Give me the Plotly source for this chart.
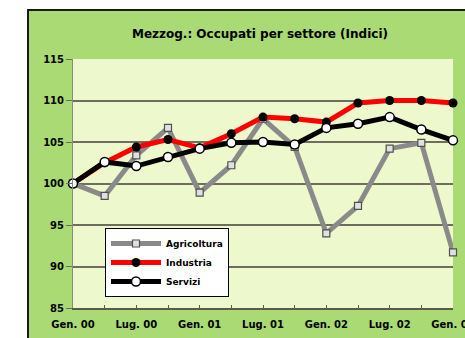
import plotly.graph_objects as go

# Quarterly periods, Gen. 2000 .. Gen. 2003
periods = ["Gen. 00", "Apr. 00", "Lug. 00", "Ott. 00", "Gen. 01", "Apr. 01", "Lug. 01",
           "Ott. 01", "Gen. 02", "Apr. 02", "Lug. 02", "Ott. 02", "Gen. 03"]
tick_labels = ["Gen. 00", "", "Lug. 00", "", "Gen. 01", "", "Lug. 01",
               "", "Gen. 02", "", "Lug. 02", "", "Gen. 03"]

agricoltura = [100, 98.5, 103.4, 106.7, 98.9, 102.2, 107.8, 104.4, 94.0, 97.3, 104.2, 104.9, 91.7]
industria = [100, 102.5, 104.4, 105.3, 104.3, 106.0, 108.0, 107.8, 107.4, 109.7, 110.0, 110.0, 109.7]
servizi = [100, 102.6, 102.1, 103.2, 104.2, 104.9, 105.0, 104.7, 106.7, 107.2, 108.0, 106.5, 105.2]

y_ticks = [85, 90, 95, 100, 105, 110, 115]

x = list(range(len(periods)))

fig = go.Figure()

fig.add_trace(go.Scatter(
    x=x, y=agricoltura, name="Agricoltura", mode="lines+markers",
    line=dict(color="#8a8a8a", width=5),
    marker=dict(symbol="square", size=7, color="#e0e0e0", line=dict(color="#505050", width=1.2)),
    cliponaxis=False,
))
fig.add_trace(go.Scatter(
    x=x, y=industria, name="Industria", mode="lines+markers",
    line=dict(color="#ff0000", width=5),
    marker=dict(symbol="circle", size=9, color="#000000"),
    cliponaxis=False,
))
fig.add_trace(go.Scatter(
    x=x, y=servizi, name="Servizi", mode="lines+markers",
    line=dict(color="#000000", width=5),
    marker=dict(symbol="circle", size=9, color="#ffffff", line=dict(color="#000000", width=1.5)),
    cliponaxis=False,
))

L, R, T, B = 73, 12, 59, 30
W, H = 465, 338
pw, ph = W - L - R, H - T - B


def px_x(p):
    return (p - L) / pw


def px_y(p):
    return 1 - (p - T) / ph


fig.update_layout(
    width=W, height=H,
    margin=dict(l=L, r=R, t=T, b=B, pad=0, autoexpand=False),
    paper_bgcolor="#ffffff",
    plot_bgcolor="#edf8cc",
    font=dict(family="DejaVu Sans, Arial, sans-serif", color="#000000"),
    title=dict(
        text="Mezzog.: Occupati per settore (Indici)",
        x=px_x(260), xref="paper", xanchor="center",
        y=1 - 34 / H, yanchor="middle",
        font=dict(size=12, weight="bold", color="#000000"),
    ),
    showlegend=True,
    legend=dict(
        x=px_x(105), y=px_y(228), xanchor="left", yanchor="top",
        bgcolor="#ffffff", bordercolor="#000000", borderwidth=1,
        font=dict(size=9, weight="bold", color="#000000"),
        itemwidth=50, tracegroupgap=0,
    ),
    xaxis=dict(
        range=[0, len(periods) - 1],
        tickmode="array", tickvals=x, ticktext=tick_labels,
        ticks="inside", ticklen=3, tickcolor="#5a5a4a",
        showgrid=False, zeroline=False,
        showline=True, linecolor="#5a5a4a", linewidth=2,
        tickfont=dict(size=10, weight="bold"),
        ticklabeloverflow="allow", ticklabelstandoff=6,
        automargin=False,
        fixedrange=True,
    ),
    yaxis=dict(
        range=[85, 115], tickmode="array", tickvals=y_ticks,
        ticktext=[str(v) for v in y_ticks],
        showgrid=True, gridcolor="#6e6e5e", gridwidth=1.5,
        zeroline=False, showline=True, linecolor="#8a8a7a", linewidth=1,
        ticks="outside", ticklen=6, tickcolor="#6e6e5e",
        tickfont=dict(size=10, weight="bold"),
        automargin=False,
        fixedrange=True,
    ),
    shapes=[
        # outer green panel with dark frame
        dict(type="rect", xref="paper", yref="paper", layer="below",
             x0=px_x(28), x1=px_x(480), y0=px_y(10), y1=px_y(350),
             fillcolor="#a9da74", line=dict(color="#1a1a1a", width=2)),
        # light inner plotting area
        dict(type="rect", xref="paper", yref="paper", layer="below",
             x0=0, x1=1, y0=0, y1=1,
             fillcolor="#edf8cc", line=dict(width=0)),
    ],
)

fig.write_html("out.html")
